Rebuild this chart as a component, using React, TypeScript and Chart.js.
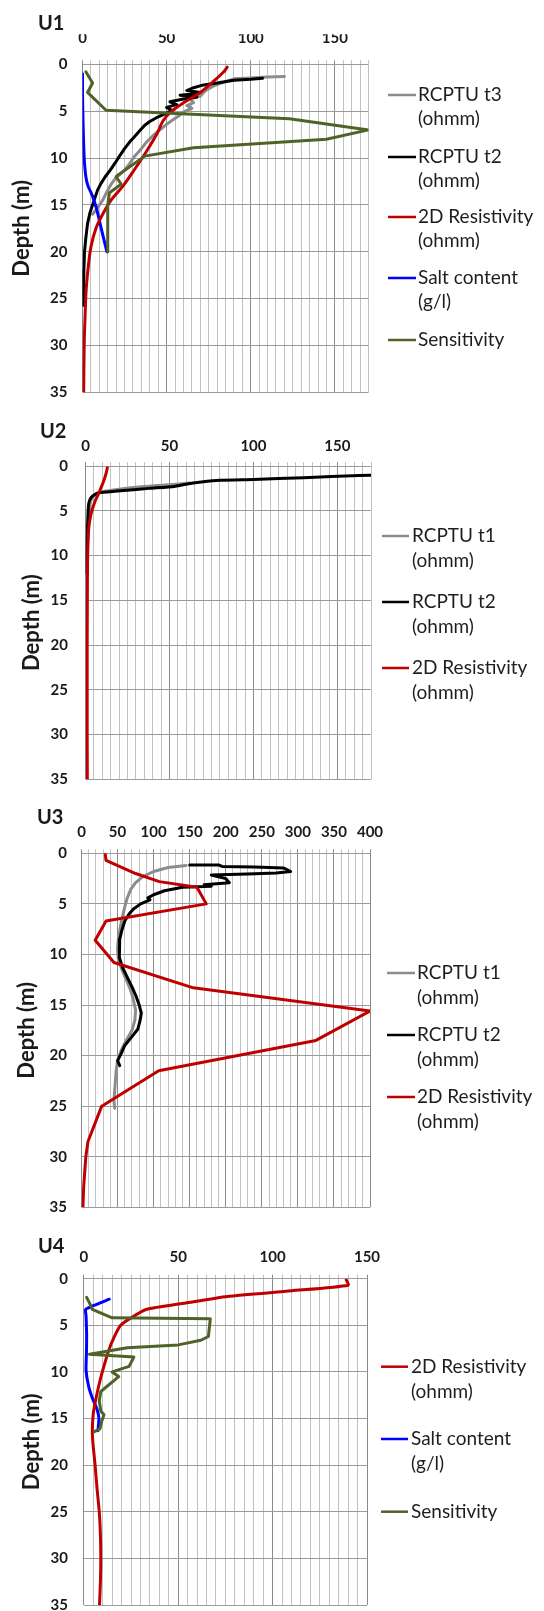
import React, { useEffect, useRef } from "react";
import { Chart, registerables } from "chart.js";
Chart.register(...registerables);

const FONT = "Lato, 'Open Sans', sans-serif";

const GREY = "#8c8c8c";
const BLACK = "#000000";
const RED = "#c00000";
const BLUE = "#0000ff";
const GREEN = "#4f6228";

// ---------- U1 ----------
const u1T3Val = [120, 110, 100, 90, 84, 78, 74, 72, 70, 64, 66, 62, 65, 61, 58, 54, 50, 46, 42, 38, 35, 31, 28, 25, 20, 17, 14.5, 12, 9, 6];
const u1T3Dep = [1.3, 1.35, 1.45, 1.55, 1.9, 2.3, 2.7, 3.0, 3.4, 3.7, 4.1, 4.4, 4.7, 5.0, 5.4, 5.9, 6.4, 7.0, 7.6, 8.3, 9.0, 9.8, 10.6, 11.3, 12.1, 12.8, 13.6, 14.5, 15.3, 16];
const u1T2Val = [107, 100, 90, 80, 72, 66, 62, 70, 64, 58, 68, 60, 52, 56, 50, 53, 49, 45, 40, 37, 34, 31, 28, 25, 22, 19.5, 16.5, 13.5, 11, 9, 7.5, 6, 4.5, 3, 2, 1.2, 0.8, 0.6, 0.5];
const u1T2Dep = [1.5, 1.6, 1.7, 2.0, 2.2, 2.5, 2.8, 3.0, 3.2, 3.3, 3.5, 3.7, 4.0, 4.3, 4.6, 4.9, 5.3, 5.6, 6.1, 6.5, 7.1, 7.7, 8.3, 9.0, 9.8, 10.5, 11.3, 12, 12.7, 13.4, 14.2, 15, 15.8, 17, 18.5, 20, 22, 24, 25.7];
const u1ResVal = [86, 84, 78, 70, 61, 53, 48, 44, 38, 31, 24, 17, 12, 8, 5, 3.5, 2.2, 1.5, 1, 0.7];
const u1ResDep = [0.3, 0.8, 1.8, 3, 4, 5, 6, 7.5, 9.3, 11.2, 13, 14.5, 16, 17.5, 19.5, 21.5, 24, 27, 30, 35];
const u1SaltVal = [0, 0, 0.3, 0.6, 1, 2, 3.3, 5.8, 8.5, 11.5, 14.5];
const u1SaltDep = [1, 3, 6, 8, 10, 12, 13, 14, 15.5, 17.8, 20];
const u1SensVal = [2, 6, 3, 14, 123, 170, 145, 66, 37, 22, 20, 23, 16, 15, 15];
const u1SensDep = [0.8, 2.0, 3.0, 4.9, 5.8, 7.0, 8.0, 8.9, 9.8, 11.7, 12.0, 12.8, 13.7, 15, 20];

// ---------- U2 ----------
const u2T1Val = [62, 50, 35, 20, 10, 5, 3, 2, 1.2, 1];
const u2T1Dep = [1.9, 2.1, 2.3, 2.6, 2.9, 3.3, 4, 6, 9, 12];
const u2T2Val = [175, 163, 130, 100, 80, 69, 59, 53, 38, 19, 7.3, 3.5, 1.9, 1.2, 0.8, 0.8];
const u2T2Dep = [1.0, 1.07, 1.3, 1.5, 1.6, 1.8, 2.06, 2.28, 2.5, 2.8, 3.0, 3.5, 4.2, 6.8, 10, 12];
const u2ResVal = [13, 12.3, 11, 9.5, 8, 6, 4.3, 3, 2, 1.5, 1.2, 1.1, 1, 1, 1, 1.1];
const u2ResDep = [0.2, 0.8, 1.6, 2.3, 3, 3.8, 4.7, 5.6, 6.8, 8.5, 11, 15, 20, 25, 30, 35];

// ---------- U3 ----------
const u3T1Val = [145, 120, 100, 85, 75, 68, 63, 60, 57, 54, 51, 50, 51, 56, 62, 68, 72, 75, 74, 70, 62, 55, 50, 48, 47, 46, 45, 46];
const u3T1Dep = [1.2, 1.4, 1.8, 2.3, 2.9, 3.6, 4.5, 5.3, 6.2, 7.2, 8.5, 9.5, 10.5, 11.5, 12.5, 13.5, 14.5, 15.5, 16.5, 17.5, 18.5, 19.5, 20.5, 21.5, 22.5, 23.5, 24.5, 25.2];
const u3T2Val = [150, 190, 195, 240, 280, 290, 270, 230, 180, 200, 205, 170, 180, 140, 115, 100, 92, 95, 82, 72, 66, 60, 56, 53, 52, 53, 57, 63, 70, 76, 80, 83, 81, 78, 68, 60, 55, 50, 53];
const u3T2Dep = [1.15, 1.15, 1.3, 1.35, 1.45, 1.8, 1.95, 2.05, 2.15, 2.5, 2.9, 3.1, 3.25, 3.35, 3.7, 4.1, 4.4, 4.6, 5.0, 5.5, 6.0, 6.7, 7.6, 8.5, 9.4, 10.3, 11.3, 12.2, 13.2, 14.2, 15, 15.8, 16.6, 17.4, 18.3, 19, 19.8, 20.5, 21];
const u3ResVal = [33, 34, 75, 108, 160, 173, 34, 19, 45, 155, 400, 325, 107, 28, 9, 6, 3, 2];
const u3ResDep = [0.1, 0.7, 2.0, 2.8, 3.35, 5.0, 6.7, 8.6, 10.8, 13.3, 15.6, 18.5, 21.5, 25, 28.5, 30, 33, 35];

// ---------- U4 ----------
const u4ResVal = [139, 140, 110, 76, 54, 33, 25, 19.5, 16, 13, 10.5, 8.5, 6.5, 5, 4.5, 5, 6, 7, 8.2, 8.8, 9, 8.8, 8.3];
const u4ResDep = [0.1, 0.7, 1.3, 1.9, 2.6, 3.3, 4.2, 5, 6.3, 7.8, 9.5, 11, 12.8, 14.5, 16.5, 18, 20, 22.5, 25, 27.5, 30, 32.5, 35];
const u4SaltVal = [13.5, 5, 1, 1.2, 1.5, 1.4, 1.2, 2.5, 4.5, 7, 8, 7.5];
const u4SaltDep = [2.2, 2.9, 3.3, 4, 6, 8, 9.8, 11.5, 12.8, 14, 15, 16.3];
const u4SensVal = [1.5, 3, 4.5, 15, 67, 66, 62, 50, 23, 3, 26.5, 24, 15, 18.5, 9, 8.2, 9, 10.7, 9.5, 8.5, 5.6];
const u4SensDep = [2, 2.6, 3.3, 4.2, 4.3, 6.2, 6.6, 7.1, 7.4, 8.1, 8.4, 9.4, 10, 10.5, 12.1, 13.1, 14.2, 14.6, 15.3, 16.1, 16.4];

const depthTicks = { min: 0, max: 35, step: 5 };

type Series = { color: string; values: number[]; depths: number[]; tension?: number };
type LegendItem = { lines: string[]; color: string };
type PanelSpec = {
  name: string;
  top: number;
  height: number;
  area: { left: number; top: number; right: number; bottom: number };
  xMax: number;
  xStep: number;
  xMajor: number;
  xTickPad: number;
  yTickPad: number;
  titlePad: number;
  nameX: number;
  nameY: number;
  legend: { x0: number; x1: number; tx: number; ys: number[]; gap: number; items: LegendItem[] };
  series: Series[];
};

const panels: PanelSpec[] = [
  {
    name: "U1", top: 0, height: 410,
    area: { left: 82.5, top: 64.3, right: 368.5, bottom: 392.3 },
    xMax: 170, xStep: 5, xMajor: 50, xTickPad: 13.5, yTickPad: 15, titlePad: 8.5,
    nameX: 38, nameY: 23.5,
    legend: {
      x0: 388, x1: 416, tx: 418, ys: [95, 157, 217, 278, 340], gap: 23.5,
      items: [
        { lines: ["RCPTU t3", "(ohmm)"], color: GREY },
        { lines: ["RCPTU t2", "(ohmm)"], color: BLACK },
        { lines: ["2D Resistivity", "(ohmm)"], color: RED },
        { lines: ["Salt content", "(g/l)"], color: BLUE },
        { lines: ["Sensitivity"], color: GREEN },
      ],
    },
    series: [
      { color: GREEN, values: u1SensVal, depths: u1SensDep },
      { color: RED, values: u1ResVal, depths: u1ResDep, tension: 0.3 },
      { color: BLUE, values: u1SaltVal, depths: u1SaltDep, tension: 0.2 },
      { color: BLACK, values: u1T2Val, depths: u1T2Dep },
      { color: GREY, values: u1T3Val, depths: u1T3Dep },
    ],
  },
  {
    name: "U2", top: 400, height: 395,
    area: { left: 85.5, top: 66, right: 371, bottom: 379.3 },
    xMax: 170, xStep: 5, xMajor: 50, xTickPad: 7, yTickPad: 17.5, titlePad: 18.5,
    nameX: 40, nameY: 31.7,
    legend: {
      x0: 382, x1: 409, tx: 412, ys: [136, 202, 268], gap: 25,
      items: [
        { lines: ["RCPTU t1", "(ohmm)"], color: GREY },
        { lines: ["RCPTU t2", "(ohmm)"], color: BLACK },
        { lines: ["2D Resistivity", "(ohmm)"], color: RED },
      ],
    },
    series: [
      { color: RED, values: u2ResVal, depths: u2ResDep, tension: 0.3 },
      { color: BLACK, values: u2T2Val, depths: u2T2Dep, tension: 0.2 },
      { color: GREY, values: u2T1Val, depths: u2T1Dep, tension: 0.2 },
    ],
  },
  {
    name: "U3", top: 800, height: 420,
    area: { left: 81.5, top: 53.3, right: 370, bottom: 407.3 },
    xMax: 400, xStep: 10, xMajor: 50, xTickPad: 7.7, yTickPad: 14.5, titlePad: 13.5,
    nameX: 37, nameY: 18,
    legend: {
      x0: 387, x1: 415, tx: 417, ys: [173, 235, 297], gap: 24.5,
      items: [
        { lines: ["RCPTU t1", "(ohmm)"], color: GREY },
        { lines: ["RCPTU t2", "(ohmm)"], color: BLACK },
        { lines: ["2D Resistivity", "(ohmm)"], color: RED },
      ],
    },
    series: [
      { color: RED, values: u3ResVal, depths: u3ResDep },
      { color: BLACK, values: u3T2Val, depths: u3T2Dep },
      { color: GREY, values: u3T1Val, depths: u3T1Dep },
    ],
  },
  {
    name: "U4", top: 1220, height: 391,
    area: { left: 83.8, top: 58.7, right: 367, bottom: 385 },
    xMax: 150, xStep: 5, xMajor: 50, xTickPad: 8.5, yTickPad: 15.8, titlePad: 18.5,
    nameX: 38, nameY: 26.7,
    legend: {
      x0: 381, x1: 408, tx: 411, ys: [146.7, 219, 291.7], gap: 25,
      items: [
        { lines: ["2D Resistivity", "(ohmm)"], color: RED },
        { lines: ["Salt content", "(g/l)"], color: BLUE },
        { lines: ["Sensitivity"], color: GREEN },
      ],
    },
    series: [
      { color: GREEN, values: u4SensVal, depths: u4SensDep },
      { color: RED, values: u4ResVal, depths: u4ResDep, tension: 0.2 },
      { color: BLUE, values: u4SaltVal, depths: u4SaltDep, tension: 0.2 },
    ],
  },
];

function makeDecor(spec: PanelSpec) {
  return {
    id: "decor" + spec.name,
    afterDraw(chart: any) {
      const ctx = chart.ctx as CanvasRenderingContext2D;
      ctx.save();
      ctx.textAlign = "left";
      ctx.textBaseline = "middle";
      ctx.fillStyle = "#1a1a1a";
      ctx.font = `bold 20px ${FONT}`;
      ctx.fillText(spec.name, spec.nameX, spec.nameY);
      const lg = spec.legend;
      ctx.font = `19px ${FONT}`;
      lg.items.forEach((it, i) => {
        const y = lg.ys[i];
        ctx.strokeStyle = it.color;
        ctx.lineWidth = 2.5;
        ctx.beginPath();
        ctx.moveTo(lg.x0, y);
        ctx.lineTo(lg.x1, y);
        ctx.stroke();
        ctx.fillStyle = "#1e1e1e";
        it.lines.forEach((ln, j) => ctx.fillText(ln, lg.tx, y + j * lg.gap));
      });
      ctx.restore();
    },
  };
}

function Panel({ spec }: { spec: PanelSpec }) {
  const ref = useRef<HTMLCanvasElement>(null);
  useEffect(() => {
    const canvas = ref.current;
    if (!canvas) return;
    const a = spec.area;
    const X_AXIS_H = 30;
    const chart = new Chart(canvas, {
      type: "scatter",
      data: {
        datasets: spec.series.map((s) => ({
          data: s.depths.map((d, i) => ({ x: s.values[i], y: d })),
          showLine: true,
          borderColor: s.color,
          backgroundColor: s.color,
          borderWidth: 3,
          borderJoinStyle: "round",
          borderCapStyle: "round",
          pointRadius: 0,
          pointHoverRadius: 0,
          tension: s.tension ?? 0,
          fill: false,
        })),
      },
      options: {
        animation: false,
        responsive: false,
        devicePixelRatio: 1,
        events: [],
        layout: {
          padding: {
            left: 0,
            top: a.top - X_AXIS_H,
            right: 544 - a.right,
            bottom: spec.height - a.bottom,
          },
        },
        plugins: { legend: { display: false }, tooltip: { enabled: false }, title: { display: false } },
        scales: {
          x: {
            type: "linear",
            position: "top",
            min: 0,
            max: spec.xMax,
            afterFit: (s: any) => {
              s.height = X_AXIS_H;
              s.paddingLeft = 0;
              s.paddingRight = 0;
            },
            ticks: {
              stepSize: spec.xStep,
              maxTicksLimit: 200,
              autoSkip: false,
              maxRotation: 0,
              minRotation: 0,
              padding: spec.xTickPad,
              color: "#1a1a1a",
              font: { family: FONT, size: 15, weight: "bold" },
              callback: (v: any) => (Number(v) % spec.xMajor === 0 ? String(v) : ""),
            },
            grid: {
              color: (c: any) => (c.tick && c.tick.value % spec.xMajor === 0 ? "#8a8a8a" : "#c2c2c2"),
              lineWidth: 1,
              drawTicks: true,
              tickLength: 4,
            },
            border: { display: false },
          },
          y: {
            type: "linear",
            position: "left",
            reverse: true,
            min: depthTicks.min,
            max: depthTicks.max,
            afterFit: (s: any) => {
              s.width = a.left;
              s.paddingTop = 0;
              s.paddingBottom = 0;
            },
            ticks: {
              stepSize: depthTicks.step,
              padding: spec.yTickPad,
              color: "#1a1a1a",
              font: { family: FONT, size: 15, weight: "bold" },
            },
            grid: { color: "#9c9c9c", lineWidth: 1, drawTicks: false },
            border: { display: false },
            title: {
              display: true,
              text: "Depth (m)",
              color: "#1a1a1a",
              font: { family: FONT, size: 22, weight: "bold" },
              padding: { top: spec.titlePad, bottom: 0 },
            },
          },
        },
      } as any,
      plugins: [makeDecor(spec)],
    });
    return () => chart.destroy();
  }, [spec]);
  return (
    <canvas
      ref={ref}
      width={544}
      height={spec.height}
      style={{ position: "absolute", left: 0, top: spec.top, width: 544, height: spec.height, display: "block" }}
    />
  );
}

export default function App() {
  return (
    <div style={{ position: "absolute", left: 0, top: 0, width: 544, height: 1611, background: "#ffffff" }}>
      {panels.map((p) => (
        <Panel key={p.name} spec={p} />
      ))}
    </div>
  );
}
